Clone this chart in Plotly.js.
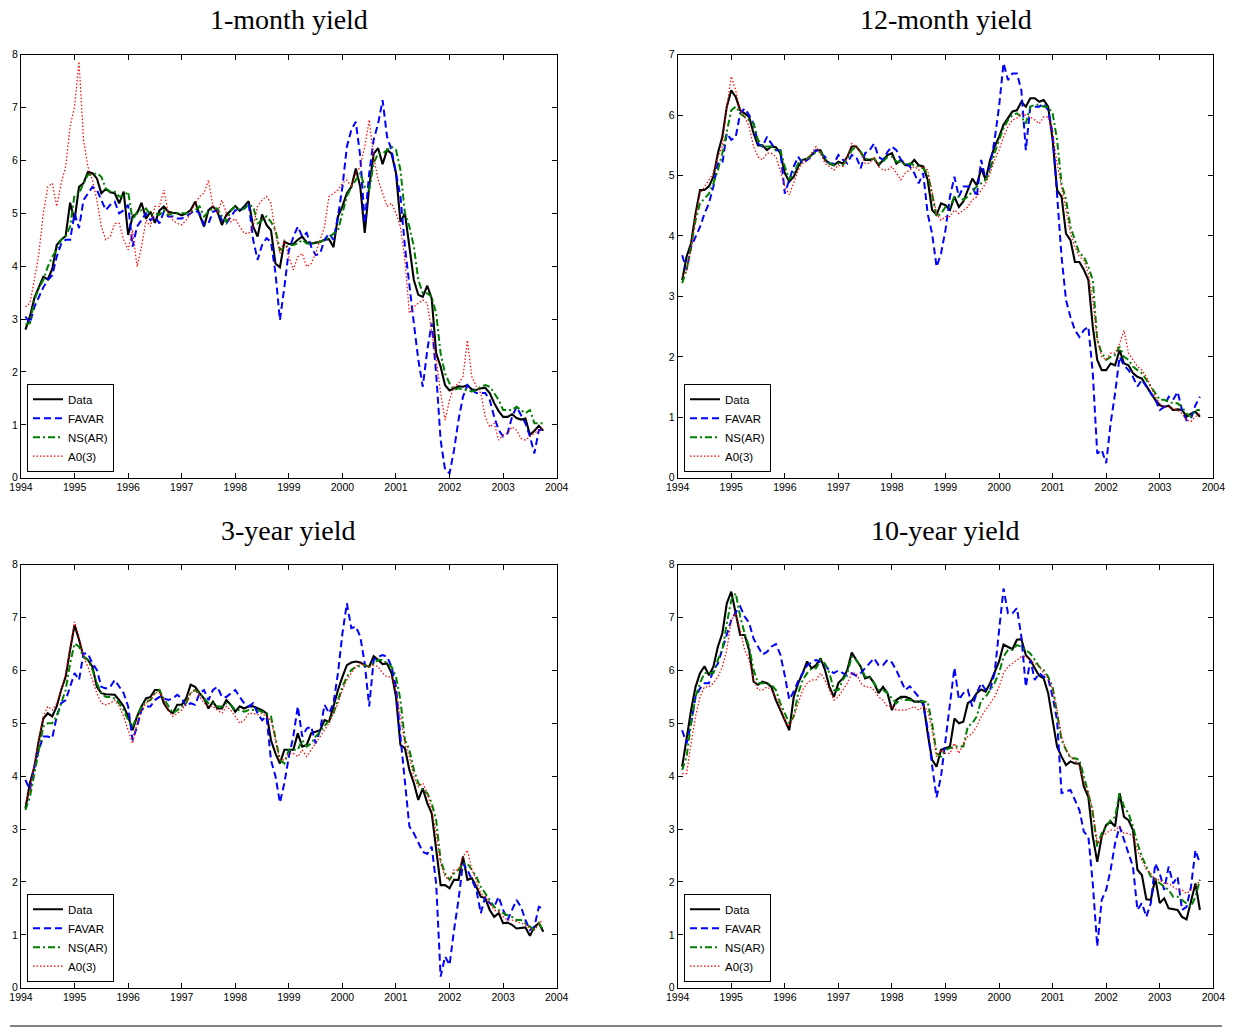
<!DOCTYPE html>
<html><head><meta charset="utf-8">
<script src="https://cdn.plot.ly/plotly-3.0.1.min.js"></script>
<style>html,body{margin:0;padding:0;background:#fff}#chart{width:1237px;height:1030px}</style>
</head><body><div id="chart"></div>
<script>
const seriesNames = ['Data', 'FAVAR', 'NS(AR)', 'A0(3)'];
const panelTitles = ['1-month yield', '12-month yield', '3-year yield', '10-year yield'];
const xTickVals = [1994, 1995, 1996, 1997, 1998, 1999, 2000, 2001, 2002, 2003, 2004];
const xTickLabels = ['1994', '1995', '1996', '1997', '1998', '1999', '2000', '2001', '2002', '2003', '2004'];

// 1-month yield
const data1m = [2.8,3.05,3.4,3.6,3.8,3.75,3.95,4.4,4.5,4.57,5.2,4.87,5.5,5.57,5.78,5.76,5.66,5.38,5.46,5.4,5.38,5.19,5.41,4.59,4.94,5.0,5.2,4.9,5.03,4.82,5.05,5.13,5.03,5.01,5.0,4.96,5.0,5.06,5.22,4.97,4.75,5.06,5.13,5.03,4.78,4.97,5.06,5.14,5.05,5.13,5.23,4.75,4.56,4.98,4.78,4.68,4.05,3.98,4.46,4.42,4.42,4.5,
  4.56,4.45,4.43,4.44,4.46,4.5,4.51,4.36,4.94,5.13,5.38,5.5,5.85,5.5,4.63,5.5,6.13,6.23,5.93,6.2,6.13,5.76,4.84,5.0,4.37,3.74,3.46,3.42,3.63,3.39,2.35,2.1,1.75,1.65,1.69,1.73,1.72,1.75,1.67,1.66,1.69,1.7,1.6,1.41,1.26,1.15,1.15,1.2,1.13,1.1,1.12,0.81,0.89,0.98,0.89];
const favar1m = [3.05,2.92,3.23,3.42,3.6,3.74,3.83,4.18,4.42,4.5,4.5,5.0,4.72,5.25,5.38,5.5,5.44,5.25,5.06,5.16,5.22,5.0,5.06,5.16,4.37,4.75,4.87,5.0,4.87,4.94,4.81,5.03,4.94,4.94,4.9,4.9,4.94,5.0,5.06,5.0,4.78,4.81,5.03,5.06,4.87,4.81,4.94,5.06,5.06,5.09,5.19,4.5,4.12,4.4,4.53,4.46,3.87,2.98,3.61,4.3,4.55,4.75,
  4.56,4.63,4.37,4.21,4.24,4.5,4.62,4.5,4.94,5.5,6.26,6.58,6.73,6.07,4.81,5.76,6.39,6.7,7.14,6.45,6.2,5.76,5.32,4.37,3.61,2.92,2.23,1.72,2.41,2.92,1.97,0.71,0.15,0.08,0.52,1.09,1.53,1.75,1.66,1.6,1.6,1.6,1.47,1.15,0.9,0.78,0.84,1.15,1.34,1.19,1.03,0.78,0.46,0.9,0.9];
const ns1m = [2.9,2.92,3.36,3.58,3.74,3.99,4.18,4.31,4.5,4.56,4.75,5.35,5.37,5.57,5.73,5.73,5.76,5.69,5.47,5.41,5.41,5.32,5.32,5.41,4.87,5.03,5.06,5.09,4.97,5.0,4.97,5.06,4.97,5.0,5.0,5.0,5.0,5.03,5.06,5.13,4.94,5.03,5.09,5.09,4.94,4.84,5.06,5.13,5.06,5.09,5.16,5.13,4.81,4.87,4.94,4.84,4.68,4.31,4.34,4.4,4.4,4.43,
  4.5,4.43,4.42,4.44,4.46,4.51,4.53,4.62,4.68,5.0,5.32,5.5,5.63,5.76,5.5,5.44,5.95,6.13,6.13,6.2,6.26,6.2,5.82,5.0,4.75,4.37,3.74,3.49,3.49,3.42,3.11,2.35,1.97,1.78,1.66,1.69,1.67,1.66,1.63,1.66,1.72,1.75,1.72,1.6,1.47,1.28,1.28,1.28,1.34,1.28,1.22,1.28,1.03,1.03,1.03];
const a031m = [3.23,3.3,3.74,4.24,5.0,5.5,5.57,5.13,5.57,5.88,6.64,7.02,7.87,6.39,5.88,5.63,5.25,4.75,4.5,4.56,4.81,4.81,4.5,4.31,4.68,3.99,4.37,4.87,4.75,5.13,5.13,5.44,5.0,4.87,4.81,4.78,4.87,5.0,5.19,5.32,5.38,5.63,5.13,5.0,5.25,5.0,4.84,4.9,4.75,4.62,4.62,4.75,5.13,5.25,5.32,5.19,4.62,4.24,4.5,4.18,3.93,4.18,
  4.24,3.99,4.05,4.24,4.5,4.75,5.32,5.38,5.44,5.57,5.63,5.5,5.76,5.88,6.26,6.77,6.07,5.63,5.38,5.13,5.19,5.0,4.75,4.12,3.11,3.23,3.3,3.36,3.3,2.79,2.23,1.6,1.09,1.47,1.72,1.78,1.91,2.6,1.91,1.72,1.6,1.15,0.96,1.03,0.71,0.81,0.84,0.96,0.9,0.74,0.71,0.78,0.84,0.9,0.93];

// 12-month yield
const data12m = [3.27,3.66,3.88,4.37,4.76,4.76,4.82,4.98,5.37,5.64,6.14,6.41,6.3,6.08,6.03,5.97,5.7,5.5,5.5,5.42,5.48,5.47,5.37,5.04,4.9,4.98,5.15,5.26,5.28,5.34,5.42,5.42,5.26,5.2,5.17,5.23,5.2,5.31,5.48,5.48,5.39,5.26,5.26,5.28,5.17,5.26,5.34,5.37,5.2,5.26,5.17,5.17,5.26,5.17,5.15,4.93,4.43,4.35,4.54,4.51,4.43,4.65,
  4.48,4.57,4.76,4.95,4.84,5.12,4.93,5.26,5.48,5.64,5.84,5.95,6.06,6.08,6.22,6.14,6.28,6.28,6.22,6.25,6.14,5.59,4.76,4.65,4.04,3.93,3.57,3.57,3.44,3.27,2.5,1.95,1.78,1.78,1.89,1.86,2.11,1.89,1.86,1.73,1.67,1.64,1.51,1.4,1.29,1.2,1.17,1.19,1.12,1.13,1.12,1.01,1.06,1.09,1.01];
const favar12m = [3.68,3.44,3.82,3.99,4.15,4.37,4.54,4.82,5.2,5.2,5.7,5.59,5.64,6.03,6.11,6.0,5.86,5.53,5.48,5.64,5.53,5.42,5.42,4.7,4.93,5.15,5.31,5.2,5.26,5.31,5.42,5.37,5.31,5.2,5.2,5.34,5.26,5.2,5.34,5.31,5.12,5.37,5.42,5.53,5.31,5.26,5.39,5.48,5.42,5.26,5.2,5.15,5.04,4.87,5.04,4.37,4.04,3.49,3.71,4.1,4.65,4.98,
  4.65,4.82,4.82,4.82,4.65,5.26,4.93,5.15,5.59,6.14,6.86,6.58,6.69,6.69,6.41,5.42,6.14,6.14,6.14,6.19,6.08,5.7,4.76,3.66,2.94,2.66,2.44,2.33,2.44,2.5,1.73,0.4,0.46,0.24,0.9,1.4,2.0,1.86,1.78,1.67,1.51,1.62,1.51,1.4,1.29,1.12,1.17,1.34,1.29,1.42,1.12,0.95,0.98,1.2,1.34];
const ns12m = [3.22,3.44,3.82,4.26,4.54,4.62,4.7,4.87,5.09,5.37,5.75,6.08,6.14,6.03,5.97,5.92,5.86,5.59,5.48,5.48,5.48,5.42,5.42,5.15,4.93,5.04,5.2,5.26,5.28,5.34,5.39,5.39,5.28,5.2,5.17,5.2,5.17,5.28,5.42,5.48,5.39,5.28,5.26,5.28,5.2,5.23,5.31,5.31,5.23,5.23,5.17,5.2,5.17,5.15,5.12,5.04,4.65,4.32,4.37,4.48,4.48,4.65,
  4.65,4.6,4.65,4.73,4.82,4.87,4.93,5.09,5.37,5.59,5.78,5.92,6.0,6.03,5.97,5.86,6.14,6.17,6.17,6.14,6.14,6.03,5.59,4.87,4.6,4.15,3.93,3.71,3.66,3.49,3.27,2.28,2.06,1.95,2.0,2.03,2.17,2.0,1.95,1.84,1.78,1.73,1.62,1.51,1.4,1.29,1.29,1.26,1.23,1.23,1.17,1.06,1.01,1.12,1.12];
const a0312m = [3.33,3.44,3.77,4.32,4.7,4.82,4.93,5.04,5.31,5.48,6.14,6.64,6.41,6.08,5.97,5.81,5.48,5.31,5.26,5.37,5.37,5.31,5.09,4.82,4.68,4.87,5.09,5.2,5.26,5.37,5.48,5.37,5.2,5.15,5.09,5.17,5.15,5.31,5.53,5.48,5.37,5.2,5.2,5.31,5.15,5.09,5.09,5.15,5.04,4.93,5.04,5.09,5.15,5.09,5.15,5.09,4.7,4.37,4.26,4.32,4.32,4.43,
  4.37,4.43,4.48,4.6,4.65,4.76,4.87,5.04,5.26,5.42,5.64,5.81,5.92,5.95,6.03,6.0,5.97,5.92,5.86,5.97,5.97,5.7,5.2,4.82,4.43,4.04,3.82,3.66,3.6,3.38,2.94,2.28,2.0,1.95,2.06,2.06,2.22,2.44,2.06,1.95,1.84,1.78,1.67,1.51,1.34,1.23,1.17,1.17,1.15,1.12,1.06,0.95,0.93,1.01,1.06];

// 3-year yield
const data3y = [3.39,3.87,4.18,4.68,5.09,5.19,5.13,5.32,5.63,5.88,6.39,6.86,6.58,6.26,6.2,6.07,5.69,5.57,5.55,5.55,5.54,5.44,5.32,5.13,4.87,5.13,5.32,5.47,5.5,5.63,5.63,5.38,5.25,5.19,5.35,5.35,5.47,5.73,5.69,5.57,5.47,5.28,5.41,5.28,5.28,5.44,5.35,5.22,5.32,5.28,5.32,5.32,5.28,5.25,5.19,4.68,4.43,4.24,4.5,4.5,4.5,4.81,
  4.56,4.59,4.81,4.84,4.87,5.06,5.03,5.32,5.63,5.88,6.1,6.15,6.17,6.15,6.1,6.07,6.27,6.2,6.12,6.13,5.95,5.5,4.59,4.53,4.12,3.87,3.55,3.77,3.49,3.3,2.6,1.94,1.94,1.88,2.04,2.04,2.48,2.04,2.07,1.91,1.72,1.69,1.47,1.34,1.41,1.22,1.23,1.19,1.12,1.13,1.14,0.98,1.15,1.22,1.06];
const favar3y = [3.93,3.74,4.18,4.5,4.75,4.75,4.72,5.13,5.38,5.44,5.69,5.95,5.82,6.32,6.32,6.13,6.01,5.69,5.66,5.69,5.82,5.69,5.57,5.32,4.68,4.94,5.25,5.32,5.32,5.44,5.5,5.47,5.44,5.47,5.54,5.47,5.32,5.38,5.35,5.57,5.63,5.44,5.63,5.69,5.5,5.5,5.57,5.63,5.5,5.38,5.32,5.38,5.19,5.06,5.13,4.3,4.0,3.5,3.87,4.37,4.75,5.32,
  4.75,4.9,4.94,4.62,4.87,5.35,5.19,5.38,5.95,6.7,7.27,6.8,6.83,6.64,6.13,5.32,6.2,6.26,6.29,6.26,6.07,5.69,4.75,3.87,3.05,2.92,2.73,2.57,2.53,2.67,1.97,0.21,0.59,0.43,1.09,1.66,2.35,2.23,2.04,1.85,1.41,1.72,1.6,1.53,1.72,1.47,1.28,1.47,1.66,1.53,1.28,1.09,1.15,1.53,1.5];
const ns3y = [3.36,3.61,4.05,4.5,4.94,5.0,5.0,5.13,5.38,5.63,6.13,6.51,6.45,6.26,6.2,6.01,5.76,5.57,5.5,5.5,5.47,5.38,5.25,5.06,4.94,5.13,5.32,5.41,5.44,5.57,5.63,5.47,5.32,5.19,5.25,5.32,5.38,5.57,5.63,5.57,5.47,5.38,5.38,5.32,5.32,5.38,5.35,5.25,5.25,5.22,5.25,5.25,5.25,5.22,5.19,5.13,4.75,4.31,4.24,4.5,4.5,4.5,
  4.68,4.56,4.62,4.75,4.84,4.94,5.06,5.19,5.44,5.69,5.88,6.01,6.07,6.08,6.1,6.07,6.13,6.2,6.2,6.13,6.07,5.88,5.44,4.68,4.5,4.12,3.87,3.74,3.68,3.49,3.17,2.41,2.16,2.04,2.16,2.23,2.35,2.35,2.23,2.1,1.91,1.78,1.66,1.53,1.47,1.41,1.37,1.34,1.28,1.28,1.22,1.15,1.09,1.22,1.09];
const a033y = [3.49,3.74,4.24,4.68,5.13,5.32,5.25,5.38,5.63,5.95,6.45,6.92,6.64,6.26,6.07,5.82,5.57,5.38,5.35,5.38,5.44,5.32,5.13,4.87,4.62,5.0,5.25,5.38,5.44,5.57,5.6,5.44,5.25,5.13,5.19,5.25,5.38,5.57,5.63,5.5,5.38,5.32,5.32,5.25,5.19,5.32,5.25,5.13,5.0,5.06,5.19,5.19,5.16,5.19,5.13,5.06,4.68,4.31,4.31,4.43,4.43,4.37,
  4.5,4.37,4.5,4.62,4.75,4.87,5.0,5.19,5.38,5.63,5.82,5.95,6.07,6.13,6.1,6.07,6.1,6.07,5.95,5.88,5.88,5.63,5.13,4.62,4.37,3.99,3.8,3.87,3.68,3.36,2.92,2.35,2.1,2.04,2.23,2.23,2.48,2.6,2.23,2.04,1.78,1.72,1.6,1.47,1.44,1.34,1.28,1.28,1.25,1.22,1.19,1.12,1.09,1.22,1.28];

// 10-year yield
const data10y = [4.18,4.75,5.25,5.69,5.95,6.08,5.91,6.07,6.45,6.7,7.27,7.49,7.08,6.67,6.67,6.39,5.79,5.73,5.79,5.76,5.69,5.44,5.25,5.06,4.87,5.5,5.76,5.95,6.17,6.04,6.1,6.23,6.01,5.69,5.5,5.76,5.85,6.01,6.34,6.2,6.07,5.85,5.88,5.76,5.57,5.69,5.57,5.25,5.44,5.5,5.5,5.47,5.41,5.41,5.41,4.81,4.31,4.18,4.5,4.53,4.56,5.09,
  5.0,5.03,5.38,5.44,5.57,5.64,5.6,5.76,5.95,6.17,6.49,6.45,6.4,6.58,6.59,6.29,6.2,6.04,5.9,5.85,5.57,5.06,4.56,4.37,4.21,4.28,4.24,4.24,3.8,3.61,2.86,2.38,2.86,3.08,3.14,3.05,3.68,3.23,3.17,2.98,2.23,2.13,1.67,1.66,2.07,1.6,1.69,1.5,1.48,1.47,1.34,1.29,1.63,1.97,1.47];
const favar10y = [4.87,4.62,5.0,5.5,5.66,5.76,5.76,6.0,6.13,6.4,6.64,6.95,7.1,7.21,7.02,6.9,6.6,6.45,6.3,6.35,6.45,6.5,6.3,5.9,5.45,5.6,5.8,5.95,6.1,6.15,6.2,6.15,6.1,6.0,5.95,6.0,5.95,5.9,5.95,5.9,5.95,6.05,6.15,6.23,6.1,6.1,6.2,6.15,6.0,5.8,5.63,5.7,5.6,5.5,5.35,4.9,4.2,3.6,4.0,4.7,5.4,6.05,
  5.45,5.57,5.63,5.32,5.57,5.76,5.63,5.63,5.95,6.7,7.55,7.08,7.08,7.18,6.64,5.69,6.2,5.82,5.95,5.88,5.85,5.5,5.06,3.68,3.71,3.74,3.55,3.36,2.95,2.86,1.97,0.78,1.66,1.85,2.23,2.73,3.05,2.79,2.54,2.29,1.47,1.6,1.34,1.6,2.35,2.16,1.85,2.29,1.97,2.1,1.47,1.53,1.91,2.6,2.35];
const ns10y = [4.12,4.37,5.0,5.5,5.76,5.95,5.95,5.95,6.2,6.39,6.89,7.33,7.46,7.02,6.7,6.45,6.01,5.76,5.76,5.76,5.73,5.63,5.38,5.19,5.0,5.13,5.57,5.82,5.95,6.04,6.04,6.2,6.13,5.95,5.63,5.63,5.82,5.95,6.26,6.2,6.07,5.88,5.88,5.76,5.63,5.63,5.57,5.47,5.38,5.47,5.44,5.44,5.41,5.41,5.41,5.41,5.0,4.43,4.37,4.5,4.53,4.56,
  4.56,4.56,4.94,5.0,5.13,5.44,5.5,5.63,5.76,5.95,6.26,6.39,6.39,6.48,6.45,6.39,6.32,6.2,6.07,6.01,5.88,5.69,5.19,4.68,4.5,4.34,4.34,4.31,3.99,3.68,3.3,2.67,2.92,3.05,3.17,3.23,3.68,3.42,3.3,3.05,2.73,2.48,2.29,2.1,2.04,1.97,1.91,1.85,1.72,1.72,1.66,1.6,1.53,1.72,2.04];
const a0310y = [4.05,4.05,4.62,5.13,5.5,5.69,5.69,5.76,5.88,6.07,6.39,6.95,7.08,6.77,6.39,6.2,5.82,5.63,5.63,5.69,5.63,5.5,5.32,5.06,4.94,5.13,5.38,5.63,5.76,5.82,5.82,5.95,5.82,5.63,5.44,5.5,5.63,5.76,5.95,5.95,5.76,5.69,5.69,5.63,5.5,5.44,5.32,5.32,5.25,5.25,5.25,5.28,5.32,5.25,5.32,5.25,4.87,4.37,4.5,4.43,4.43,4.62,
  4.43,4.62,4.75,4.81,4.94,5.13,5.25,5.38,5.5,5.69,5.95,6.07,6.13,6.2,6.26,6.26,6.2,6.13,6.07,5.95,5.85,5.63,5.25,4.75,4.5,4.37,4.31,4.18,3.87,3.68,3.36,2.73,2.86,2.92,2.98,2.98,3.05,2.92,2.92,2.86,2.6,2.41,2.23,2.16,2.04,2.04,1.97,1.97,1.91,1.85,1.85,1.78,1.85,1.91,2.04];

const panels = [
  {series: [data1m, favar1m, ns1m, a031m], ymax: 8},
  {series: [data12m, favar12m, ns12m, a0312m], ymax: 7},
  {series: [data3y, favar3y, ns3y, a033y], ymax: 8},
  {series: [data10y, favar10y, ns10y, a0310y], ymax: 8}
];

// monthly observation dates: Feb 1994 onwards, as decimal years
function monthDates(n) { const t = []; for (let i = 1; i <= n; i++) t.push(1994 + i / 12); return t; }

const styles = [
  {color: '#000000', width: 2.1, dash: 'solid'},
  {color: '#0000ff', width: 2, dash: '7px,4px'},
  {color: '#008000', width: 2, dash: '7px,3px,2px,3px'},
  {color: '#ff0000', width: 1.2, dash: '1.5px,2px'}
];

const W = 1237, H = 1030;
const xDomains = [[21 / W, 556.7 / W], [677.7 / W, 1213.3 / W]];
const yDomains = [[(H - 477.7) / H, (H - 54.7) / H], [(H - 987.7) / H, (H - 564.7) / H]];

const traces = [];
const layout = {
  width: W, height: H,
  margin: {l: 0, r: 0, t: 0, b: 0},
  paper_bgcolor: '#ffffff', plot_bgcolor: '#ffffff',
  font: {family: 'Liberation Sans, Arial, Helvetica, sans-serif', size: 10.5, color: '#000'},
  showlegend: true,
  annotations: [],
  shapes: [{type: 'line', xref: 'paper', yref: 'paper', x0: 10 / W, x1: 1222 / W, y0: (H - 1026) / H, y1: (H - 1026) / H, line: {color: '#000', width: 1}}]
};

panels.forEach((p, k) => {
  const col = k % 2, row = Math.floor(k / 2);
  const ax = k === 0 ? '' : String(k + 1);
  const legName = k === 0 ? 'legend' : 'legend' + (k + 1);
  p.series.forEach((vals, s) => {
    traces.push({
      type: 'scatter', mode: 'lines',
      x: monthDates(vals.length), y: vals,
      name: seriesNames[s],
      xaxis: 'x' + ax, yaxis: 'y' + ax,
      legend: legName,
      line: {color: styles[s].color, width: styles[s].width, dash: styles[s].dash},
      hoverinfo: 'skip'
    });
  });
  layout['xaxis' + ax] = {
    domain: xDomains[col], anchor: 'y' + ax, range: [1994, 2004],
    tickmode: 'array', tickvals: xTickVals, ticktext: xTickLabels,
    ticks: 'inside', ticklen: 5, tickwidth: 1, tickcolor: '#000',
    showline: true, linecolor: '#000', linewidth: 1, mirror: 'ticks',
    showgrid: false, zeroline: false, fixedrange: true
  };
  layout['yaxis' + ax] = {
    domain: yDomains[row], anchor: 'x' + ax, range: [0, p.ymax], dtick: 1, tick0: 0,
    ticks: 'inside', ticklen: 5, tickwidth: 1, tickcolor: '#000',
    showline: true, linecolor: '#000', linewidth: 1, mirror: 'ticks',
    showgrid: false, zeroline: false, fixedrange: true
  };
  const legX = col === 0 ? 27 / W : 684 / W;
  const legBottom = row === 0 ? 471.7 : 981.7;
  layout[legName] = {
    x: legX, y: (H - legBottom) / H, xanchor: 'left', yanchor: 'bottom',
    bgcolor: '#ffffff', bordercolor: '#000', borderwidth: 1,
    font: {size: 11.5}, tracegroupgap: 0, traceorder: 'normal'
  };
  const cx = (xDomains[col][0] + xDomains[col][1]) / 2;
  layout.annotations.push({
    text: panelTitles[k], xref: 'paper', yref: 'paper', x: cx, y: (H - (row === 0 ? 20 : 530)) / H,
    xanchor: 'center', yanchor: 'middle', showarrow: false,
    font: {family: 'Liberation Serif, Times New Roman, serif', size: 28, color: '#000'}
  });
});

Plotly.newPlot('chart', traces, layout, {staticPlot: true, displayModeBar: false});
</script>
</body></html>
